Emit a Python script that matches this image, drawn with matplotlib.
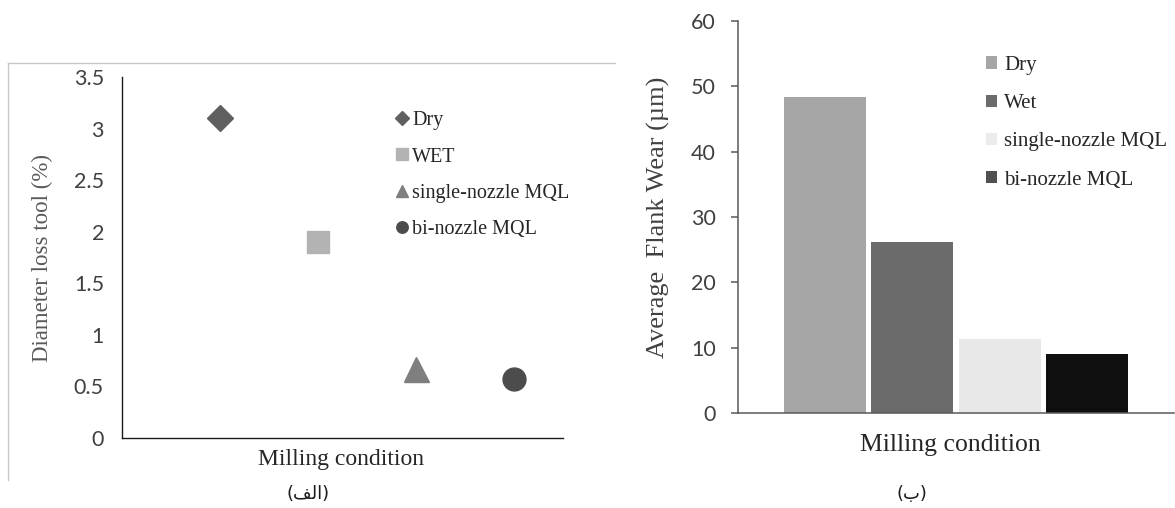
import matplotlib
matplotlib.use("Agg")
import matplotlib.pyplot as plt
from matplotlib.lines import Line2D
from matplotlib.patches import Patch

# left panel: diameter loss of the tool
conditions_a = ['Dry', 'WET', 'single-nozzle MQL', 'bi-nozzle MQL']
diameter_loss = [3.1, 1.9, 0.67, 0.57]
markers_a = ['D', 's', '^', 'o']
marker_sizes = [13.5, 16.5, 18, 16.5]
colors_a = ['#606060', '#b3b3b3', '#7f7f7f', '#4c4c4c']
yticks_a = [0, 0.5, 1, 1.5, 2, 2.5, 3, 3.5]

# right panel: average flank wear
conditions_b = ['Dry', 'Wet', 'single-nozzle MQL', 'bi-nozzle MQL']
flank_wear = [48.3, 26.2, 11.3, 9.0]
bar_colors = ['#a6a6a6', '#6b6b6b', '#e8e8e8', '#0f0f0f']
legend_colors = ['#a6a6a6', '#6b6b6b', '#ececec', '#505050']
yticks_b = [0, 10, 20, 30, 40, 50, 60]

serif = 'Liberation Serif'
tickfont = 'Lato'

W, H = 1175, 508
fig = plt.figure(figsize=(W / 100, H / 100), dpi=100)

# ---------- (a) ----------
ax1 = fig.add_axes([122 / W, 1 - 438 / H, 441 / W, 361 / H])
for i, (name, val) in enumerate(zip(conditions_a, diameter_loss)):
    ax1.plot([i + 1], [val], ls='none', marker=markers_a[i], ms=marker_sizes[i],
             color=colors_a[i], mec=colors_a[i], label=name)
ax1.set_xlim(0, 4.5)
ax1.set_ylim(0, 3.5)
ax1.set_xticks([])
ax1.set_yticks(yticks_a)
ax1.set_yticklabels(['%g' % t for t in yticks_a], fontfamily=tickfont, fontsize=15.5, color='#404040')
ax1.tick_params(axis='y', length=0, pad=13)
for s in ['top', 'right']:
    ax1.spines[s].set_visible(False)
for s in ['left', 'bottom']:
    ax1.spines[s].set_color('#1a1a1a')
    ax1.spines[s].set_linewidth(1.0)
ax1.set_ylabel('Diameter loss tool (%)', fontfamily=serif, fontsize=16.5, color='#595959')
ax1.yaxis.set_label_coords(-0.156, 0.5)
ax1.set_xlabel('Milling condition', fontfamily=serif, fontsize=17, color='#262626', va='baseline')
ax1.xaxis.set_label_coords(0.497, -0.075)
leg1 = ax1.legend(loc='upper left', bbox_to_anchor=(396 / W, 1 - 111 / H), bbox_transform=fig.transFigure,
                  frameon=False, prop={'family': serif, 'size': 14.5}, markerscale=0.5,
                  handlelength=0.6, handletextpad=0.2, labelspacing=0.86, borderpad=0, borderaxespad=0)
for t in leg1.get_texts():
    t.set_color('#262626')

# light frame around panel (a)
fig.add_artist(Line2D([8 / W, 615 / W], [1 - 63 / H, 1 - 63 / H], color='#c8c8c8', lw=1))
fig.add_artist(Line2D([8 / W, 8 / W], [1 - 63 / H, 1 - 480 / H], color='#c8c8c8', lw=1))

# ---------- (b) ----------
ax2 = fig.add_axes([738 / W, 1 - 413 / H, 436 / W, 392 / H])
offsets = [(i - 1.5) * 0.2 for i in range(len(flank_wear))]
ax2.bar(offsets, flank_wear, width=0.188, color=bar_colors, edgecolor='none')
ax2.set_xlim(-0.5, 0.5)
ax2.set_ylim(0, 60)
ax2.set_xticks([])
ax2.set_yticks(yticks_b)
ax2.set_yticklabels([str(t) for t in yticks_b], fontfamily=tickfont, fontsize=15.5, color='#404040')
ax2.tick_params(axis='y', length=5, width=1.1, color='#595959', pad=11)
for s in ['top', 'right']:
    ax2.spines[s].set_visible(False)
for s in ['left', 'bottom']:
    ax2.spines[s].set_color('#595959')
    ax2.spines[s].set_linewidth(1.1)
ax2.set_ylabel('Average  Flank Wear (\u00b5m)', fontfamily=serif, fontsize=19, color='#404040')
ax2.yaxis.set_label_coords(-0.156, 0.5)
ax2.set_xlabel('Milling condition', fontfamily=serif, fontsize=18.5, color='#262626', va='baseline')
ax2.xaxis.set_label_coords(0.486, -0.097)
handles = [Patch(facecolor=c, edgecolor='none', label=n) for c, n in zip(legend_colors, conditions_b)]
leg2 = ax2.legend(handles=handles, loc='upper left', bbox_to_anchor=(986 / W, 1 - 56 / H),
                  bbox_transform=fig.transFigure, frameon=False, prop={'family': serif, 'size': 15},
                  handlelength=0.55, handleheight=0.55, handletextpad=0.33, labelspacing=0.92,
                  borderpad=0, borderaxespad=0)
for t in leg2.get_texts():
    t.set_color('#262626')

# captions (Persian, in visual order)
fig.text(308 / W, 1 - 494 / H, '(\ufed2\ufedf\ufe8d)', ha='center', va='center',
         fontfamily='DejaVu Sans', fontsize=13, color='#1a1a1a')
fig.text(912 / W, 1 - 494 / H, '(\ufe8f)', ha='center', va='center',
         fontfamily='DejaVu Sans', fontsize=13, color='#1a1a1a')

fig.savefig('out.png', dpi=100)
